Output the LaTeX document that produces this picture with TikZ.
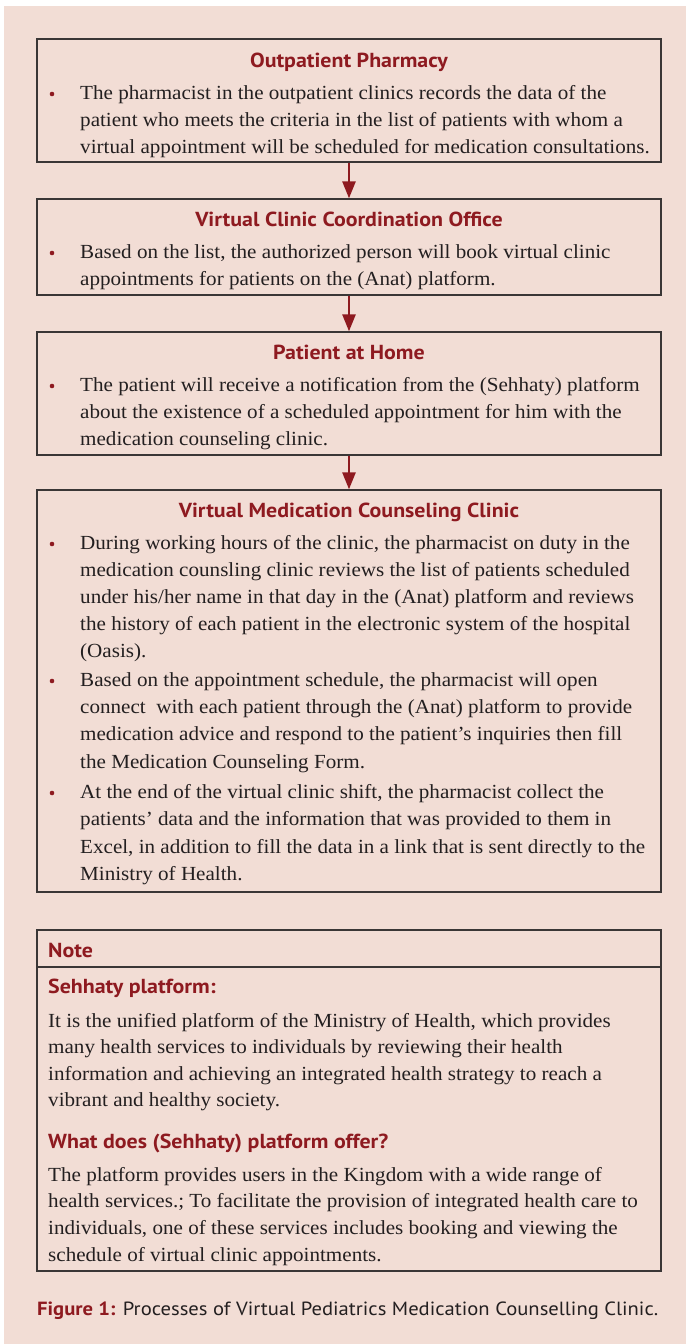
\documentclass[tikz,border=0pt]{standalone}
\usepackage{fontspec}
\setmainfont{Liberation Serif}[FakeStretch=1.055]
\newfontfamily\headfont{PT Sans}[FakeStretch=1.08]
\usetikzlibrary{arrows.meta}

\definecolor{bgpink}{HTML}{F2DDD5}
\definecolor{darkred}{HTML}{8E1A20}
\definecolor{ink}{HTML}{231F20}
\definecolor{frame}{HTML}{3A3636}

\tikzset{
  stepbox/.style={draw=frame, line width=1.3pt, rectangle, inner sep=0pt,
                  minimum width=624pt},
  titletxt/.style={inner sep=0pt, anchor=base, text=darkred,
                   font=\headfont\bfseries\fontsize{20.3}{24}\selectfont},
  subtxt/.style={inner sep=0pt, anchor=base west, text=darkred,
                 font=\headfont\bfseries\fontsize{20.3}{24}\selectfont},
  bodytxt/.style={inner sep=0pt, anchor=base west, text=ink,
                  font=\fontsize{20}{27}\selectfont},
  dot/.style={circle, fill=darkred, inner sep=0pt, minimum size=4.6pt},
  flow/.style={draw=darkred, fill=darkred, line width=2.6pt,
               -{Triangle[width=13pt,length=17pt]}}
}

% #1 name prefix, #2 left x, #3 first baseline, #4 line step, #5 lines
\newcommand\textlines[5]{%
  \foreach \ln [count=\i from 0] in {#5}{%
    \node[bodytxt] (#1-\i) at (#2,{#3+\i*#4}) {\ln};
  }%
}

\begin{document}
\begin{tikzpicture}[x=1pt,y=-1pt]
\path[use as bounding box] (0,0) rectangle (686,1344);
\fill[white] (0,0) rectangle (686,1344);
\fill[bgpink] (4,6) rectangle (686,1344);

% process steps
\node[stepbox, minimum height=123pt] (b1) at (349,100.5) {};
\node[stepbox, minimum height=96pt]  (b2) at (349,247) {};
\node[stepbox, minimum height=123pt] (b3) at (349,393.5) {};
\node[stepbox, minimum height=402pt] (b4) at (349,691) {};

\draw[flow] (b1.south) -- (b2.north);
\draw[flow] (b2.south) -- (b3.north);
\draw[flow] (b3.south) -- (b4.north);

% step 1
\node[titletxt] (t1) at (349,67) {Outpatient Pharmacy};
\node[dot] (d1) at (52,94) {};
\textlines{p1}{80}{99}{27}{%
  {The pharmacist in the outpatient clinics records the data of the},
  {patient who meets the criteria in the list of patients with whom a},
  {virtual appointment will be scheduled for medication consultations.}}

% step 2
\node[titletxt] (t2) at (349,226) {Virtual Clinic Coordination Office};
\node[dot] (d2) at (52,253) {};
\textlines{p2}{80}{258}{27}{%
  {Based on the list, the authorized person will book virtual clinic},
  {appointments for patients on the (Anat) platform.}}

% step 3
\node[titletxt] (t3) at (349,359) {Patient at Home};
\node[dot] (d3) at (52,386) {};
\textlines{p3}{80}{391}{27}{%
  {The patient will receive a notification from the (Sehhaty) platform},
  {about the existence of a scheduled appointment for him with the},
  {medication counseling clinic.}}

% step 4
\node[titletxt] (t4) at (349,517) {Virtual Medication Counseling Clinic};
\node[dot] (d4a) at (52,544) {};
\textlines{p4a}{80}{549}{27.2}{%
  {During working hours of the clinic, the pharmacist on duty in the},
  {medication counsling clinic reviews the list of patients scheduled},
  {under his/her name in that day in the (Anat) platform and reviews},
  {the history of each patient in the electronic system of the hospital},
  {(Oasis).}}
\node[dot] (d4b) at (52,681) {};
\textlines{p4b}{80}{686}{27.4}{%
  {Based on the appointment schedule, the pharmacist will open},
  {connect\ \ with each patient through the (Anat) platform to provide},
  {medication advice and respond to the patient’s inquiries then fill},
  {the Medication Counseling Form.}}
\node[dot] (d4c) at (52,793) {};
\textlines{p4c}{80}{798}{27.6}{%
  {At the end of the virtual clinic shift, the pharmacist collect the},
  {patients’ data and the information that was provided to them in},
  {Excel, in addition to fill the data in a link that is sent directly to the},
  {Ministry of Health.}}

% note panel
\node[stepbox, minimum height=37pt]  (nh) at (349,948.5) {};
\node[stepbox, minimum height=304pt] (nb) at (349,1119) {};
\node[subtxt] (nt) at (48,957) {Note};
\node[subtxt] (ns1) at (48,993) {Sehhaty platform:};
\textlines{n1}{48}{1027}{26.5}{%
  {It is the unified platform of the Ministry of Health, which provides},
  {many health services to individuals by reviewing their health},
  {information and achieving an integrated health strategy to reach a},
  {vibrant and healthy society.}}
\node[subtxt] (ns2) at (48,1148) {What does (Sehhaty) platform offer?};
\textlines{n2}{48}{1181}{26.7}{%
  {The platform provides users in the Kingdom with a wide range of},
  {health services.; To facilitate the provision of integrated health care to},
  {individuals, one of these services includes booking and viewing the},
  {schedule of virtual clinic appointments.}}

% caption
\node[inner sep=0pt, anchor=base west, text=ink,
      font=\headfont\fontsize{19.1}{23}\selectfont] (cap) at (37,1315)
  {\textcolor{darkred}{\bfseries Figure 1:} Processes of Virtual Pediatrics Medication Counselling Clinic.};
\end{tikzpicture}
\end{document}
